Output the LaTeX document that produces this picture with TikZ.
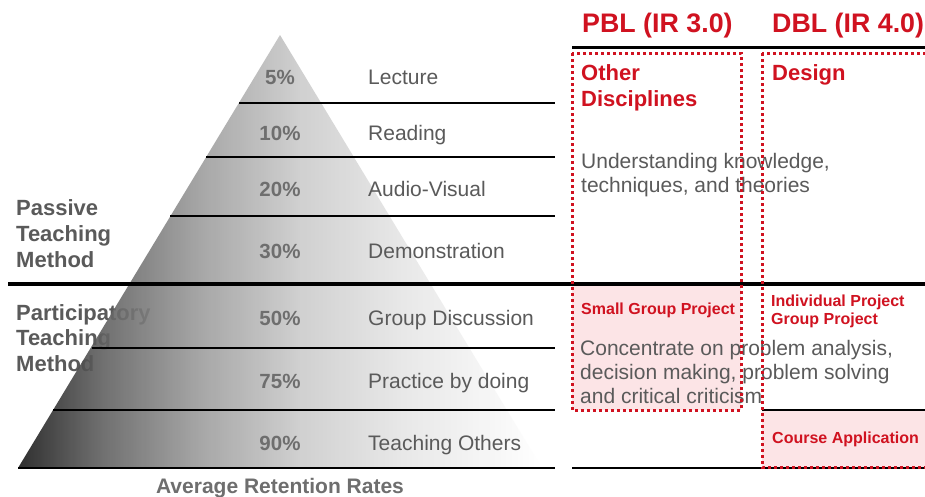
\documentclass[tikz,border=0pt]{standalone}
\usepackage{fontspec}
\setmainfont{Liberation Sans}
\definecolor{redt}{RGB}{208,18,32}
\definecolor{pinkf}{RGB}{252,228,230}
\definecolor{txtg}{RGB}{90,90,90}
\definecolor{pctg}{RGB}{110,110,110}
\definecolor{pyA}{gray}{0.10}
\definecolor{pyB}{gray}{0.38}
\definecolor{pyC}{gray}{0.62}
\definecolor{pyD}{gray}{0.80}
\definecolor{pyE}{gray}{0.90}
\pgfdeclarehorizontalshading{pyr}{100bp}{color(0bp)=(pyA); color(25bp)=(pyA); color(33bp)=(pyB); color(42.5bp)=(pyC); color(52bp)=(pyD); color(61.5bp)=(pyE); color(75bp)=(white); color(100bp)=(white)}
\begin{document}
\begin{tikzpicture}[x=1pt,y=-1pt,
  meth/.style={anchor=base west, inner sep=0pt, text=txtg, font=\fontsize{21}{25}\selectfont},
  pct/.style={anchor=base, inner sep=0pt, text=pctg, font=\bfseries\fontsize{20.5}{24}\selectfont},
  side/.style={anchor=base west, inner sep=0pt, text=txtg, font=\bfseries\fontsize{22}{26}\selectfont},
  hd/.style={anchor=base west, inner sep=0pt, text=redt, font=\bfseries\fontsize{26.8}{30}\selectfont},
  rbig/.style={anchor=base west, inner sep=0pt, text=redt, font=\bfseries\fontsize{22}{26}\selectfont},
  rsmall/.style={anchor=base west, inner sep=0pt, text=redt, font=\bfseries\fontsize{16}{19}\selectfont},
  body/.style={anchor=base west, inner sep=0pt, text=txtg, font=\fontsize{21}{25}\selectfont},
  rule/.style={draw=black, line width=2pt},
  dotbox/.style={draw=redt, line width=3pt, dash pattern=on 3pt off 3pt}
]
\useasboundingbox (0,0) rectangle (925,496);
\fill[white] (0,0) rectangle (925,496);

% pink areas
\fill[pinkf] (572,286) rectangle (741,410);
\fill[pinkf] (762,411) rectangle (926,467);

% left side labels (behind pyramid)
\node[side] (pas1) at (16,215) {Passive};
\node[side] (pas2) at (16,241) {Teaching};
\node[side] (pas3) at (16,267) {Method};
\node[side] (par1) at (16,320) {Participatory};
\node[side] (par2) at (16,345) {Teaching};
\node[side] (par3) at (16,371) {Method};

% pyramid
\shade[shading=pyr, fill opacity=0.9] (280,35) -- (542,468) -- (18,468) -- cycle;

% rules
\draw[rule] (239,103) -- (555,103);
\draw[rule] (206,157) -- (555,157);
\draw[rule] (170,216) -- (555,216);
\draw[rule] (92,348) -- (555,348);
\draw[rule] (53,410) -- (555,410);
\draw[rule, line width=2.5pt] (18,468) -- (555,468);

% percentages and methods
\node[pct] (p1) at (280,84.4) {5\%};
\node[pct] (p2) at (280,140.4) {10\%};
\node[pct] (p3) at (280,196.4) {20\%};
\node[pct] (p4) at (280,258.4) {30\%};
\node[pct] (p5) at (280,325.4) {50\%};
\node[pct] (p6) at (280,388.4) {75\%};
\node[pct] (p7) at (280,450.4) {90\%};
\node[meth] (m1) at (368,84.4) {Lecture};
\node[meth] (m2) at (368,140.4) {Reading};
\node[meth] (m3) at (368,196.4) {Audio-Visual};
\node[meth] (m4) at (368,258.4) {Demonstration};
\node[meth] (m5) at (368,325.4) {Group Discussion};
\node[meth] (m6) at (368,388.4) {Practice by doing};
\node[meth] (m7) at (368,450.4) {Teaching Others};
\node[anchor=base, inner sep=0pt, text=pctg, font=\bfseries\fontsize{21}{25}\selectfont] (avg) at (280,493) {Average Retention Rates};

% right body texts
\node[body] (u1) at (581,168.5) {Understanding knowledge,};
\node[body] (u2) at (581,192.5) {techniques, and theories};
\node[body] (c1) at (580,355.5) {Concentrate on problem analysis,};
\node[body] (c2) at (580,379.5) {decision making, problem solving};
\node[body] (c3) at (580,403.5) {and critical criticism};

% right rules
\draw[rule, line width=3pt] (572,47) -- (925,47);
\draw[rule, line width=4pt] (8,284) -- (925,284);
\draw[rule] (762,410) -- (925,410);
\draw[rule, line width=2.5pt] (572,468) -- (925,468);

% dotted boxes
\draw[dotbox] (572,53) rectangle (741,410);
\draw[dotbox] (762,53) rectangle (928,467);

% headers and red labels
\node[hd] (pbl) at (582,32) {PBL (IR 3.0)};
\node[hd] (dbl) at (772,32) {DBL (IR 4.0)};
\node[rbig] (o1) at (581,80) {Other};
\node[rbig] (o2) at (581,106) {Disciplines};
\node[rbig] (des) at (772,80) {Design};
\node[rsmall] (sgp) at (581,314.7) {Small Group Project};
\node[rsmall] (ip) at (771,306.4) {Individual Project};
\node[rsmall] (gp) at (771,324) {Group Project};
\node[rsmall] (ca) at (772,443.7) {Course Application};
\end{tikzpicture}
\end{document}
